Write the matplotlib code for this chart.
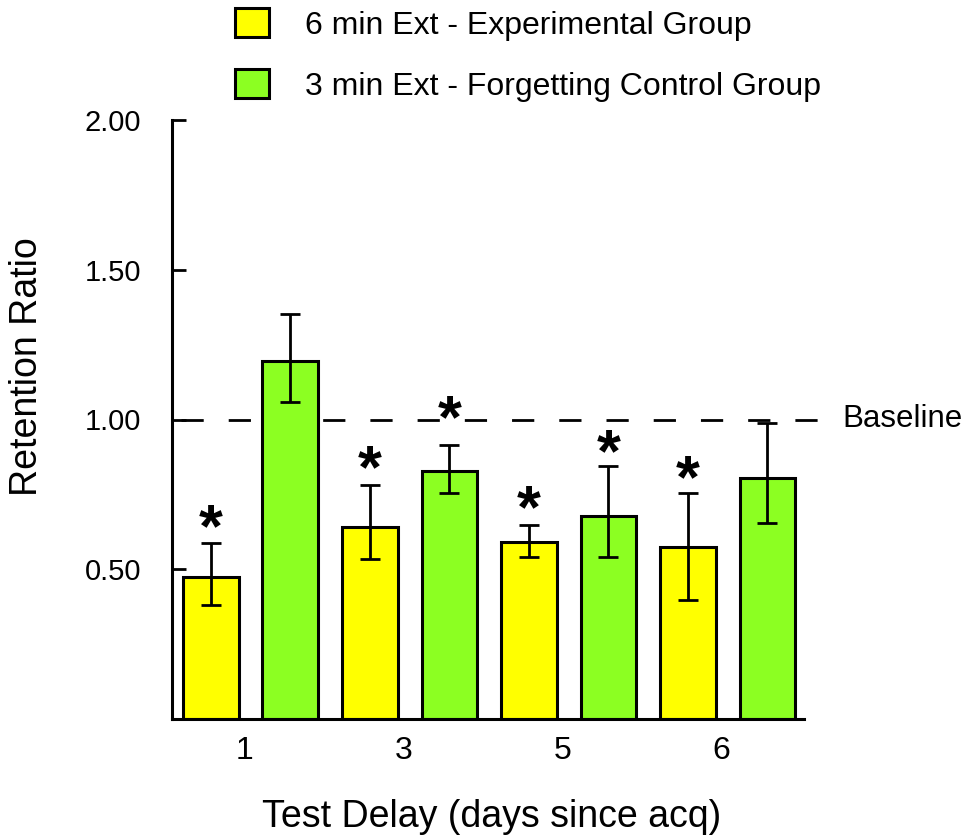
import matplotlib.pyplot as plt
import numpy as np

plt.rcParams['font.family'] = ['Liberation Sans', 'DejaVu Sans']

delays = ['1', '3', '5', '6']
exp_mean = [0.475, 0.642, 0.590, 0.573]
exp_hi = [0.587, 0.781, 0.648, 0.754]
exp_lo = [0.381, 0.533, 0.541, 0.398]
ctl_mean = [1.196, 0.829, 0.679, 0.804]
ctl_hi = [1.352, 0.915, 0.844, 0.989]
ctl_lo = [1.057, 0.756, 0.541, 0.655]
# stars: (group index, series, height)
stars = [(0, 'exp', 0.674), (1, 'exp', 0.871), (1, 'ctl', 1.038),
         (2, 'exp', 0.738), (2, 'ctl', 0.925), (3, 'exp', 0.838)]
baseline = 1.0

yellow = '#ffff00'
green = '#8cff22'
width = 0.35
off = 0.25

fig = plt.figure(figsize=(9.69, 8.4), dpi=100)
ax = fig.add_axes([172 / 969, 1 - 719 / 840, (804 - 172) / 969, (719 - 120) / 840])

x = np.arange(len(delays))
exp_err = [np.array(exp_mean) - np.array(exp_lo), np.array(exp_hi) - np.array(exp_mean)]
ctl_err = [np.array(ctl_mean) - np.array(ctl_lo), np.array(ctl_hi) - np.array(ctl_mean)]

ax.bar(x - off, exp_mean, width=width, color=yellow, edgecolor='black', linewidth=2.2,
       label='6 min Ext - Experimental Group', zorder=2)
ax.bar(x + off, ctl_mean, width=width, color=green, edgecolor='black', linewidth=2.2,
       label='3 min Ext - Forgetting Control Group', zorder=2)
ax.errorbar(x - off, exp_mean, yerr=exp_err, fmt='none', ecolor='black', elinewidth=2,
            capsize=7.5, capthick=2, zorder=3)
ax.errorbar(x + off, ctl_mean, yerr=ctl_err, fmt='none', ecolor='black', elinewidth=2,
            capsize=7.5, capthick=2, zorder=3)

# dashed baseline runs past the axis end
ax.plot([-0.437, 3.61], [baseline, baseline], color='black', linewidth=2,
        dashes=(8, 9), clip_on=False, zorder=1)
ax.text(3.72, baseline, 'Baseline', fontsize=22.5, va='center', ha='left')

for g, s, h in stars:
    xs = g - off if s == 'exp' else g + off
    ax.annotate('*', (xs, h), xytext=(0, -10), textcoords='offset points',
                fontsize=44, fontweight='bold', ha='center', va='center')

ax.set_xlim(-0.494, 3.48)
ax.set_ylim(0, 2.0)
ax.set_yticks([0.5, 1.0, 1.5, 2.0])
ax.set_yticklabels(['0.50', '1.00', '1.50', '2.00'], fontsize=21)
ax.set_xticks(x - 0.04)
ax.set_xticklabels(delays, fontsize=23)
ax.tick_params(axis='y', direction='in', length=10, width=2, pad=22)
ax.tick_params(axis='x', length=0, pad=12)
for side in ['top', 'right']:
    ax.spines[side].set_visible(False)
for side in ['left', 'bottom']:
    ax.spines[side].set_linewidth(2.2)

ax.set_ylabel('Retention Ratio', fontsize=27)
ax.yaxis.set_label_coords(-0.201, 0.589)
ax.set_xlabel('Test Delay (days since acq)', fontsize=27)
ax.xaxis.set_label_coords(0.505, -0.133)

fig.legend(loc='upper left', bbox_to_anchor=(235 / 969, 1 - 8 / 840), frameon=False,
           fontsize=23, handlelength=1.06, handleheight=1.03, labelspacing=0.9,
           handletextpad=1.12, borderpad=0, borderaxespad=0)

plt.savefig('out.png', dpi=100)
